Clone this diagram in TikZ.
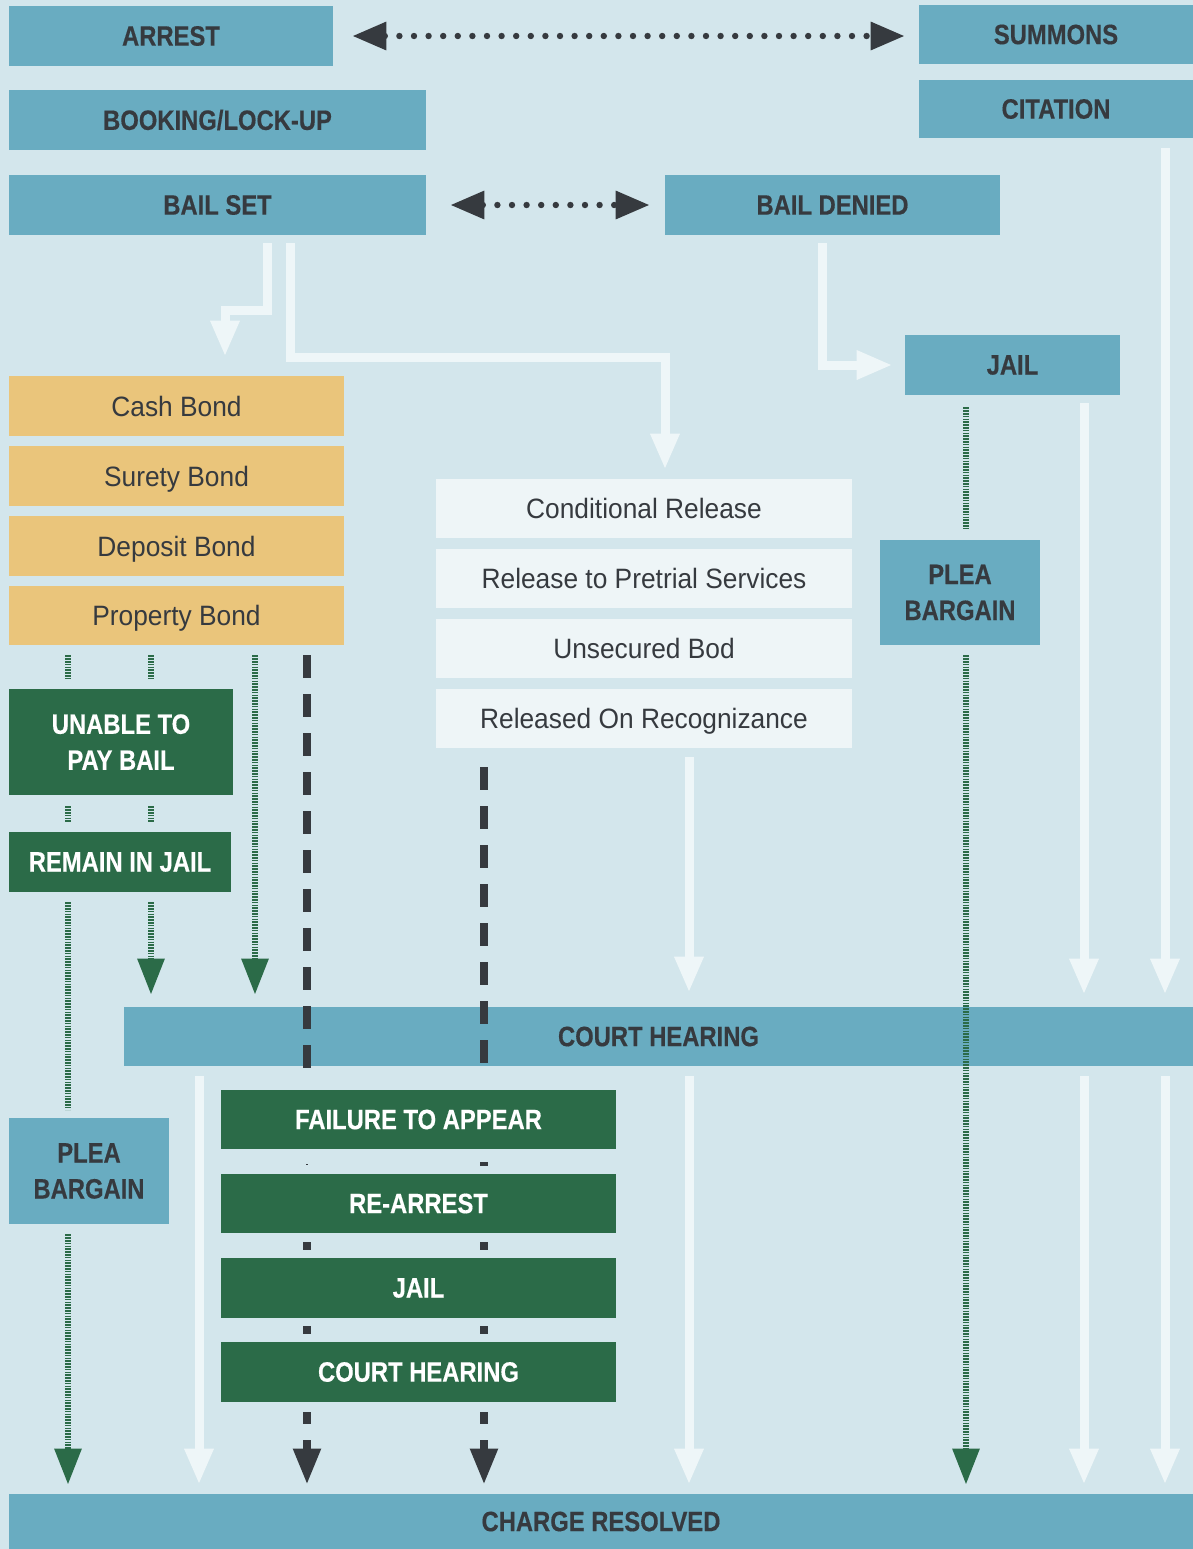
\documentclass[tikz,border=0pt]{standalone}
\usepackage{fontspec}
\setmainfont{Liberation Sans}[FakeStretch=0.94,BoldFeatures={FakeStretch=0.85,FakeBold=0.4}]
\usetikzlibrary{arrows.meta}
\definecolor{bgblue}{HTML}{D3E6EC}
\definecolor{boxblue}{HTML}{69ACC1}
\definecolor{bondorange}{HTML}{EAC57B}
\definecolor{paleblue}{HTML}{EEF5F7}
\definecolor{jailgreen}{HTML}{2B6B48}
\definecolor{inkdark}{HTML}{363A3F}
\definecolor{arrowwhite}{HTML}{EEF6F8}

\begin{document}
\begin{tikzpicture}[x=0.5pt,y=-0.5pt,
  every node/.style={font=\fontsize{14}{18}\selectfont,align=center,inner sep=0pt,text=inkdark},
  bluebox/.style={fill=boxblue,font=\fontsize{14}{18}\selectfont\bfseries,minimum height=30pt},
  bondbox/.style={fill=bondorange,minimum width=167.5pt,minimum height=30pt,text depth=0pt},
  releasebox/.style={fill=paleblue,minimum width=208pt,minimum height=29.5pt,text depth=0pt},
  greenbox/.style={fill=jailgreen,text=white,font=\fontsize{14}{18}\selectfont\bfseries,minimum height=30pt},
  wline/.style={arrowwhite,line width=4.5pt,-{Triangle[length=18pt,width=13.5pt]}},
  gline/.style={jailgreen,line width=3pt,dash pattern=on 0.8pt off 0.6pt},
  garrow/.style={gline,-{Triangle[length=18pt,width=13pt]}},
  dline/.style={inkdark,line width=4pt,dash pattern=on 11.5pt off 8pt},
  dlink/.style={inkdark,line width=4pt},
  darrow/.style={inkdark,line width=4pt,dash pattern=on 6pt off 8pt,-{Triangle[length=18pt,width=13pt]}},
  dotline/.style={inkdark,line width=3.2pt,line cap=round,dash pattern=on 0pt off 7.3pt,
    {Triangle[length=17pt,width=13.5pt]}-{Triangle[length=17pt,width=13.5pt]}}]

\fill[bgblue] (0,0) rectangle (1193,1549);

\node[bluebox,minimum width=162pt] (arrest) at (171,36) {ARREST};
\node[bluebox,minimum width=137pt,minimum height=29.5pt] (summons) at (1056,34.5) {SUMMONS};
\node[bluebox,minimum width=137pt,minimum height=29pt] (citation) at (1056,109) {CITATION};
\node[bluebox,minimum width=208.5pt] (booking) at (217.5,120) {BOOKING/LOCK-UP};
\node[bluebox,minimum width=208.5pt] (bailset) at (217.5,205) {BAIL SET};
\node[bluebox,minimum width=167.5pt] (baildenied) at (832.5,205) {BAIL DENIED};
\node[bluebox,minimum width=107.5pt] (jail) at (1012.5,365) {JAIL};
\node[bondbox] (cash) at (176.5,406) {Cash Bond};
\node[bondbox] (surety) at (176.5,476) {Surety Bond};
\node[bondbox] (deposit) at (176.5,546) {Deposit Bond};
\node[bondbox,minimum height=29.5pt] (property) at (176.5,615.5) {Property Bond};
\node[releasebox] (conditional) at (644,508.5) {Conditional Release};
\node[releasebox] (pretrial) at (644,578.5) {Release to Pretrial Services};
\node[releasebox] (unsecured) at (644,648.5) {Unsecured Bod};
\node[releasebox] (recognizance) at (644,718.5) {Released On Recognizance};
\node[bluebox,minimum width=80pt,minimum height=52.5pt] (pleajail) at (960,592.5) {PLEA\\BARGAIN};
\node[greenbox,minimum width=112pt,minimum height=53pt] (unable) at (121,742) {UNABLE TO\\PAY BAIL};
\node[greenbox,minimum width=111pt] (remain) at (120,862) {REMAIN IN JAIL};
\node[bluebox,minimum width=534.5pt,minimum height=29.5pt] (court) at (658.5,1036.5) {COURT HEARING};
\node[bluebox,minimum width=80pt,minimum height=53pt] (pleabond) at (89,1171) {PLEA\\BARGAIN};
\node[greenbox,minimum width=197.5pt,minimum height=29.5pt] (failure) at (418.5,1119.5) {FAILURE TO APPEAR};
\node[greenbox,minimum width=197.5pt,minimum height=29.5pt] (rearrest) at (418.5,1203.5) {RE-ARREST};
\node[greenbox,minimum width=197.5pt] (jailagain) at (418.5,1288) {JAIL};
\node[greenbox,minimum width=197.5pt] (courtagain) at (418.5,1372) {COURT HEARING};
\node[bluebox,minimum width=592pt,minimum height=27.5pt] (resolved) at (601,1521.5) {CHARGE RESOLVED};

\draw[dotline,shorten <=9.5pt,shorten >=7pt] (arrest.east) -- (arrest.east -| summons.west);
\draw[dotline,shorten <=12pt,shorten >=7.5pt] (bailset.east) -- (baildenied.west);

\draw[wline,shorten <=4pt,shorten >=9.5pt] (bailset.south -| 267,0) -- (267,310) -| (cash.north -| 225,0);
\draw[wline,shorten <=4pt,shorten >=4.5pt] (bailset.south -| 290,0) |- (665,357) -- (conditional.north -| 665,0);
\draw[wline,shorten <=4pt,shorten >=6pt] (baildenied.south -| 822,0) |- (jail.west);
\draw[wline,shorten <=5pt,shorten >=6pt] (citation.south -| 1165,0) -- (court.north -| 1165,0);
\draw[wline,shorten <=4pt,shorten >=6pt] (jail.south -| 1084,0) -- (court.north -| 1084,0);
\draw[wline,shorten <=4.5pt,shorten >=7pt] (recognizance.south -| 689,0) -- (court.north -| 689,0);
\foreach \col in {199,689,1084,1165}
  \draw[wline,shorten <=5pt,shorten >=4.5pt] (court.south -| \col,0) -- (resolved.north -| \col,0);

\draw[gline,shorten <=6pt,shorten >=5pt] (jail.south -| 966,0) -- (pleajail.north -| 966,0);
\draw[garrow,shorten <=5pt,shorten >=4.5pt] (pleajail.south -| 966,0) -- (resolved.north -| 966,0);
\foreach \col in {68,151} {
  \draw[gline,shorten <=5pt,shorten >=4.5pt] (property.south -| \col,0) -- (unable.north -| \col,0);
  \draw[gline,shorten <=5.5pt,shorten >=5pt] (unable.south -| \col,0) -- (remain.north -| \col,0);
}
\draw[gline,shorten <=5pt,shorten >=4pt] (remain.south -| 68,0) -- (pleabond.north -| 68,0);
\draw[garrow,shorten <=5pt,shorten >=6pt] (remain.south -| 151,0) -- (court.north -| 151,0);
\draw[garrow,shorten <=5pt,shorten >=6pt] (property.south -| 255,0) -- (court.north -| 255,0);
\draw[garrow,shorten <=5pt,shorten >=4.5pt] (pleabond.south -| 68,0) -- (resolved.north -| 68,0);

\draw[dline,shorten <=5pt,shorten >=10pt] (property.south -| 307,0) -- (failure.north -| 307,0);
\draw[dline,shorten <=9.5pt,shorten >=10pt] (recognizance.south -| 484,0) -- (failure.north -| 484,0);
\draw[dlink,line width=1pt,shorten <=7.5pt,shorten >=4.5pt] (failure.south -| 307,0) -- (rearrest.north -| 307,0);
\draw[dlink,shorten <=6.5pt,shorten >=4pt] (failure.south -| 484,0) -- (rearrest.north -| 484,0);
\foreach \col in {307,484} {
  \draw[dlink,shorten <=4.5pt,shorten >=4pt] (rearrest.south -| \col,0) -- (jailagain.north -| \col,0);
  \draw[dlink,shorten <=4pt,shorten >=4pt] (jailagain.south -| \col,0) -- (courtagain.north -| \col,0);
  \draw[darrow,shorten <=5pt,shorten >=4.5pt] (courtagain.south -| \col,0) -- (resolved.north -| \col,0);
}
\end{tikzpicture}
\end{document}
